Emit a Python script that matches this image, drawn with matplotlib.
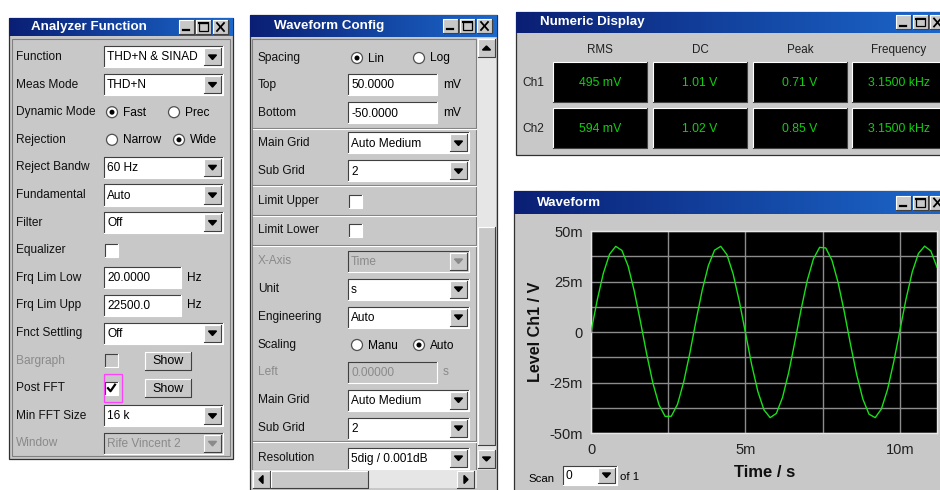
import numpy as np
import matplotlib.pyplot as plt
from matplotlib.patches import Rectangle, Circle, Polygon
from matplotlib.colors import LinearSegmentedColormap

plt.rcParams['font.family'] = ['Liberation Sans', 'DejaVu Sans']

# Waveform Ch1 (time in ms, level in mV)
time_ms = [0.0, 0.2, 0.4, 0.6, 0.8, 1.0, 1.2, 1.4, 1.6, 1.8,
           2.0, 2.2, 2.4, 2.6, 2.8, 3.0, 3.2, 3.4, 3.6, 3.8,
           4.0, 4.2, 4.4, 4.6, 4.8, 5.0, 5.2, 5.4, 5.6, 5.8,
           6.0, 6.2, 6.4, 6.6, 6.8, 7.0, 7.2, 7.4, 7.6, 7.8,
           8.0, 8.2, 8.4, 8.6, 8.8, 9.0, 9.2, 9.4, 9.6, 9.8,
           10.0, 10.2, 10.4, 10.6, 10.8, 11.0, 11.2]
level_mv = [0.0, 15.7, 29.1, 38.5, 42.4, 40.4, 32.7, 20.3, 5.2, -10.7,
            -25.1, -36.0, -41.8, -41.7, -35.8, -24.8, -10.4, 5.6, 20.7, 32.9,
            40.5, 42.4, 38.3, 28.8, 15.3, -0.4, -16.1, -29.4, -38.6, -42.4,
            -40.3, -32.4, -20.0, -4.8, 11.1, 25.5, 36.2, 41.9, 41.6, 35.5,
            24.4, 9.9, -6.1, -21.1, -33.2, -40.7, -42.4, -38.1, -28.4, -14.8,
            0.9, 16.5, 29.8, 38.9, 42.5, 40.1, 32.1]

x_ticks = [0, 5, 10]
x_labels = ['0', '5m', '10m']
y_ticks = [-50, -25, 0, 25, 50]
y_labels = ['-50m', '-25m', '0', '25m', '50m']

# Numeric Display
num_cols = ['RMS', 'DC', 'Peak', 'Frequency']
ch1_vals = ['495 mV', '1.01 V', '0.71 V', '3.1500 kHz']
ch2_vals = ['594 mV', '1.02 V', '0.85 V', '3.1500 kHz']

# Analyzer Function panel rows: (label, kind, value)
af_rows = [
    ('Function', 'drop', 'THD+N & SINAD'),
    ('Meas Mode', 'drop', 'THD+N'),
    ('Dynamic Mode', 'radio', ('Fast', 'Prec', 0)),
    ('Rejection', 'radio', ('Narrow', 'Wide', 1)),
    ('Reject Bandw', 'drop', '60 Hz'),
    ('Fundamental', 'drop', 'Auto'),
    ('Filter', 'drop', 'Off'),
    ('Equalizer', 'check', False),
    ('Frq Lim Low', 'edit', ('20.0000', 'Hz')),
    ('Frq Lim Upp', 'edit', ('22500.0', 'Hz')),
    ('Fnct Settling', 'drop', 'Off'),
    ('Bargraph', 'show', False),
    ('Post FFT', 'show', True),
    ('Min FFT Size', 'drop', '16 k'),
    ('Window', 'drop_off', 'Rife Vincent 2'),
]

# Waveform Config panel rows: (label, y, kind, value)
wc_rows = [
    ('Spacing', 58, 'radio', ('Lin', 'Log', 0)),
    ('Top', 85, 'edit', ('50.0000', 'mV')),
    ('Bottom', 113, 'edit', ('-50.0000', 'mV')),
    ('Main Grid', 143, 'drop', 'Auto Medium'),
    ('Sub Grid', 171, 'drop', '2'),
    ('Limit Upper', 201, 'check', False),
    ('Limit Lower', 230, 'check', False),
    ('X-Axis', 261, 'drop_off', 'Time'),
    ('Unit', 289, 'drop', 's'),
    ('Engineering', 317, 'drop', 'Auto'),
    ('Scaling', 345, 'radio', ('Manu', 'Auto', 1)),
    ('Left', 372, 'edit_off', ('0.00000', 's')),
    ('Main Grid', 400, 'drop', 'Auto Medium'),
    ('Sub Grid', 428, 'drop', '2'),
    ('Resolution', 458, 'drop', '5dig / 0.001dB'),
]
wc_separators = [128, 185, 215, 245, 441]

GRAY = '#c8c8c8'
DIS = '#8a8a8a'
FS = 8.6

fig = plt.figure(figsize=(9.4, 4.9), dpi=100)
ax = fig.add_axes([0, 0, 1, 1])
title_cmap = LinearSegmentedColormap.from_list('tb', ['#0a1f74', '#1c68cc'])


def bevel(x, y, w, h, sunken=False, face=GRAY, z=2):
    ax.add_patch(Rectangle((x, y), w, h, facecolor=face, edgecolor='none', zorder=z))
    light, dark = ('#404040', '#ffffff') if sunken else ('#ffffff', '#404040')
    ax.plot([x, x, x + w], [y + h, y, y], color=light, lw=0.8, zorder=z + 0.1)
    ax.plot([x, x + w, x + w], [y + h, y + h, y], color=dark, lw=0.8, zorder=z + 0.1)


def title_buttons(x_right, yc):
    for i, sym in enumerate(['min', 'max', 'close']):
        bx = x_right - (3 - i) * 17
        bevel(bx, yc - 7, 15, 14, z=4)
        if sym == 'min':
            ax.plot([bx + 4, bx + 10], [yc + 3.5, yc + 3.5], color='black', lw=1.6, zorder=5)
        elif sym == 'max':
            ax.add_patch(Rectangle((bx + 3, yc - 4), 9, 8, fill=False, ec='black', lw=0.9, zorder=5))
            ax.plot([bx + 3, bx + 12], [yc - 3.5, yc - 3.5], color='black', lw=1.5, zorder=5)
        else:
            ax.plot([bx + 4, bx + 11], [yc - 4, yc + 4], color='black', lw=1.3, zorder=5)
            ax.plot([bx + 4, bx + 11], [yc + 4, yc - 4], color='black', lw=1.3, zorder=5)


def window(x0, x1, ty0, ty1, y_end, title, tx):
    ax.add_patch(Rectangle((x0, ty0), x1 - x0, y_end - ty0, facecolor=GRAY,
                           edgecolor='#303030', lw=0.9, zorder=1))
    grad = np.linspace(0, 1, 256).reshape(1, -1)
    ax.imshow(grad, extent=(x0, x1, ty1, ty0), cmap=title_cmap, aspect='auto', zorder=2)
    ax.text(tx, (ty0 + ty1) / 2, title, color='white', fontsize=9.6, fontweight='bold',
            va='center', ha='left', zorder=3)
    title_buttons(x1 - 3, (ty0 + ty1) / 2)


def field(x, yc, w, txt, enabled=True, h=21):
    bevel(x, yc - h / 2, w, h, sunken=True, face='white' if enabled else GRAY, z=3)
    ax.text(x + 3, yc + 0.5, txt, fontsize=FS, va='center', ha='left',
            color='black' if enabled else DIS, zorder=4)


def dropdown(x, yc, w, txt, enabled=True, h=21):
    field(x, yc, w, txt, enabled, h)
    bx = x + w - 19
    bevel(bx, yc - h / 2 + 2, 17, h - 4, z=4)
    cx = bx + 8.5
    ax.add_patch(Polygon([(cx - 4, yc - 2), (cx + 4, yc - 2), (cx, yc + 2.5)],
                         color='black' if enabled else DIS, zorder=5))


def radio(cx, yc, txt, checked, color='black'):
    ax.add_patch(Circle((cx, yc), 5.5, facecolor='white', edgecolor='#505050', lw=0.9, zorder=3))
    if checked:
        ax.add_patch(Circle((cx, yc), 1.8, color='black', zorder=4))
    ax.text(cx + 11, yc + 0.5, txt, fontsize=FS, va='center', ha='left', color=color, zorder=4)


def checkbox(x, yc, checked, enabled=True):
    bevel(x, yc - 6.5, 13, 13, sunken=True, face='white' if enabled else GRAY, z=3)
    if checked:
        ax.plot([x + 3, x + 5.5, x + 10], [yc, yc + 3, yc - 3.5], color='black', lw=1.6, zorder=4)


def button(x, yc, w, txt, h=18):
    bevel(x, yc - h / 2, w, h, z=3)
    ax.text(x + w / 2, yc + 0.5, txt, fontsize=FS + 0.4, va='center', ha='center', zorder=4)


def vscroll_arrow(x, y, up=True):
    bevel(x, y, 17, 18, z=4)
    cx, cy = x + 8.5, y + 9
    pts = [(cx - 4, cy + 2), (cx + 4, cy + 2), (cx, cy - 2)] if up else \
          [(cx - 4, cy - 2), (cx + 4, cy - 2), (cx, cy + 2)]
    ax.add_patch(Polygon(pts, color='black', zorder=5))


# ---------- Analyzer Function ----------
window(9, 233, 18, 36, 459, 'Analyzer Function', 31)
ax.add_patch(Rectangle((12, 39), 218, 417, fill=False, ec='#808080', lw=0.8, zorder=2))
for i, (lab, kind, val) in enumerate(af_rows):
    yc = 57 + 27.6 * i
    grey = kind == 'drop_off' or lab == 'Bargraph'
    ax.text(16, yc, lab, fontsize=FS, va='center', ha='left', color=DIS if grey else '#101010', zorder=4)
    if kind == 'drop':
        dropdown(104, yc, 119, val)
    elif kind == 'drop_off':
        dropdown(104, yc, 119, val, enabled=False)
    elif kind == 'radio':
        radio(112, yc, val[0], val[2] == 0)
        radio(174 if lab == 'Dynamic Mode' else 179, yc, val[1], val[2] == 1)
    elif kind == 'check':
        checkbox(105, yc, val)
    elif kind == 'edit':
        field(104, yc, 77, val[0])
        ax.text(187, yc, val[1], fontsize=FS, va='center', ha='left', zorder=4)
    elif kind == 'show':
        checkbox(105, yc, val, enabled=not grey)
        if val:
            ax.add_patch(Rectangle((104, yc - 14), 18, 28, fill=False, ec='#ff40ff', lw=0.9, zorder=5))
        button(145, yc, 46, 'Show')

# ---------- Waveform Config ----------
window(250, 497, 15, 37, 495, 'Waveform Config', 274)
ax.add_patch(Rectangle((252, 39), 224, 431, fill=False, ec='#808080', lw=0.8, zorder=2))
for sy in wc_separators:
    ax.plot([253, 476], [sy, sy], color='#808080', lw=0.8, zorder=3)
    ax.plot([253, 476], [sy + 1, sy + 1], color='white', lw=0.8, zorder=3)
for lab, yc, kind, val in wc_rows:
    grey = kind.endswith('_off')
    ax.text(258, yc, lab, fontsize=FS, va='center', ha='left', color=DIS if grey else '#101010', zorder=4)
    if kind == 'drop':
        dropdown(348, yc, 121, val)
    elif kind == 'drop_off':
        dropdown(348, yc, 121, val, enabled=False)
    elif kind == 'radio':
        radio(357, yc, val[0], val[2] == 0)
        radio(419, yc, val[1], val[2] == 1)
    elif kind == 'check':
        checkbox(349, yc, val)
    elif kind in ('edit', 'edit_off'):
        field(348, yc, 89, val[0], enabled=not grey)
        ax.text(443, yc, val[1], fontsize=FS, va='center', ha='left', color=DIS if grey else 'black', zorder=4)
# scrollbars
ax.add_patch(Rectangle((477, 38), 19, 432, facecolor='#e6e6e6', edgecolor='none', zorder=3))
vscroll_arrow(478, 39, up=True)
bevel(478, 227, 17, 218, z=4)
vscroll_arrow(478, 450, up=False)
ax.add_patch(Rectangle((252, 470), 225, 18, facecolor='#e6e6e6', edgecolor='none', zorder=3))
bevel(253, 471, 17, 17, z=4)
ax.add_patch(Polygon([(259, 479.5), (263, 475.5), (263, 483.5)], color='black', zorder=5))
bevel(271, 471, 97, 17, z=4)
bevel(457, 471, 17, 17, z=4)
ax.add_patch(Polygon([(468, 479.5), (464, 475.5), (464, 483.5)], color='black', zorder=5))

# ---------- Numeric Display ----------
window(516, 950, 12, 33, 155, 'Numeric Display', 540)
box_x = [553, 653, 753, 852]
for j, col in enumerate(num_cols):
    ax.text(box_x[j] + 47, 50, col, fontsize=8.4, va='center', ha='center', color='#202020', zorder=4)
    for yb, vals in ((62, ch1_vals), (108, ch2_vals)):
        bevel(box_x[j], yb, 94, 40, sunken=False, face='black', z=3)
        ax.text(box_x[j] + 47, yb + 20.5, vals[j], fontsize=8.8, va='center', ha='center',
                color='#10d010', zorder=4)
ax.text(522, 83, 'Ch1', fontsize=8.6, va='center', ha='left', color='#202020', zorder=4)
ax.text(522, 129, 'Ch2', fontsize=8.6, va='center', ha='left', color='#202020', zorder=4)

# ---------- Waveform window ----------
window(514, 950, 191, 214, 495, 'Waveform', 537)
ax.text(535, 332, 'Level Ch1 / V', fontsize=11.6, fontweight='bold', rotation=90,
        va='center', ha='center', color='#101010', zorder=4)
ax.text(765, 472, 'Time / s', fontsize=12, fontweight='bold', va='center', ha='center',
        color='#101010', zorder=4)
ax.text(528, 479, 'Scan', fontsize=8.2, va='center', ha='left', zorder=4)
dropdown(563, 475, 54, '0', h=19)
ax.text(620, 477, 'of 1', fontsize=8.2, va='center', ha='left', zorder=4)

ax.set_xlim(0, 940)
ax.set_ylim(490, 0)
ax.axis('off')

wax = fig.add_axes([591 / 940, 1 - 433 / 490, 346 / 940, 202 / 490])
wax.set_facecolor('black')
wax.plot(time_ms, level_mv, color='#18e018', lw=1.0, zorder=3)
wax.set_xlim(0, 11.2)
wax.set_ylim(-50, 50)
wax.set_xticks(x_ticks, x_labels)
wax.set_yticks(y_ticks, y_labels)
wax.set_xticks([2.5, 7.5], minor=True)
wax.set_yticks([-37.5, -12.5, 12.5, 37.5], minor=True)
wax.grid(True, which='both', color='#8c8c8c', lw=1.0, zorder=1)
wax.tick_params(which='both', length=0)
wax.tick_params(axis='x', pad=7, labelsize=10.5, labelcolor='#202020')
wax.tick_params(axis='y', pad=6, labelsize=10.5, labelcolor='#202020')
for s in wax.spines.values():
    s.set_color('#e8e8e8')
    s.set_linewidth(1.0)

fig.savefig('out.png', dpi=100, facecolor='white')
